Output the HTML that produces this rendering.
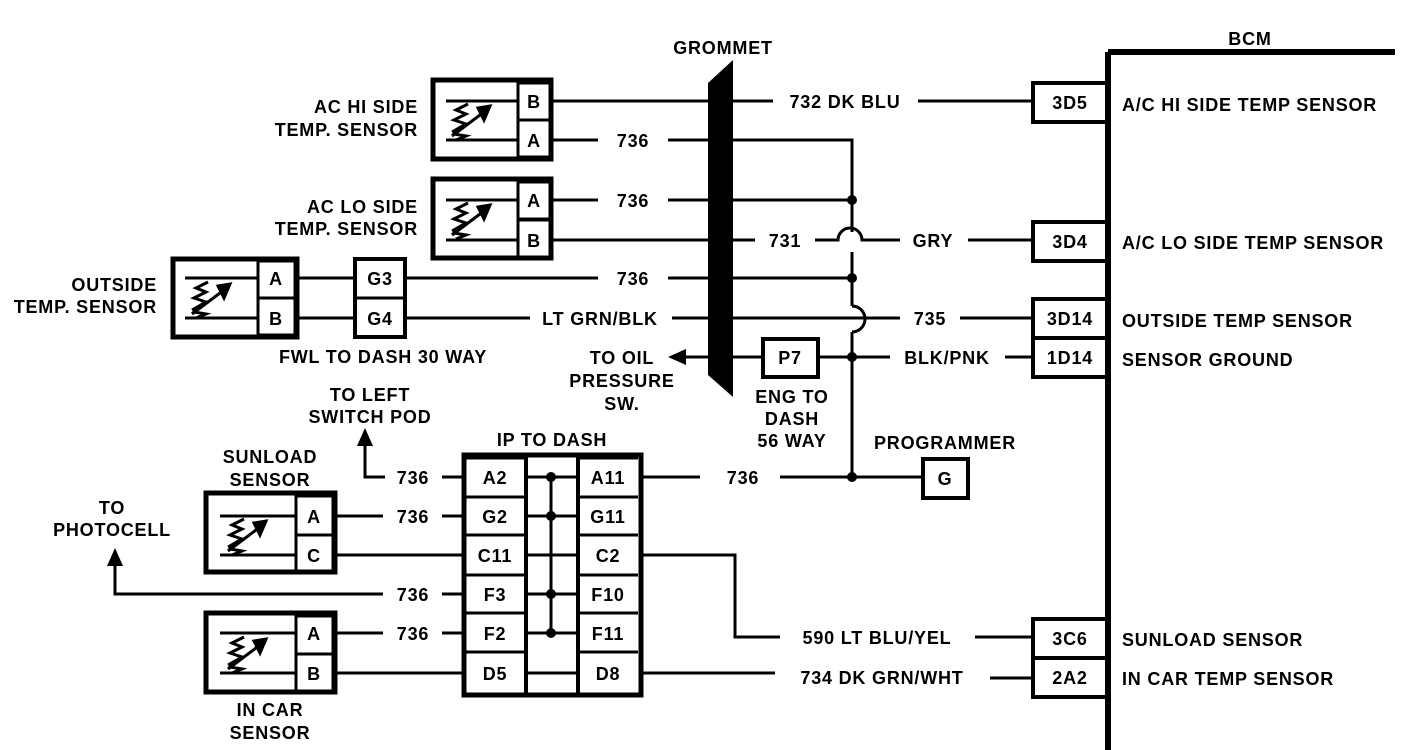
<!DOCTYPE html>
<html><head><meta charset="utf-8"><style>
html,body{margin:0;padding:0;background:#fff;}
svg{display:block;}
text{font-family:"Liberation Sans",sans-serif;font-weight:bold;font-size:18px;letter-spacing:0.8px;fill:#000;}
</style></head><body>
<svg width="1408" height="750" viewBox="0 0 1408 750" xmlns="http://www.w3.org/2000/svg">
<defs>
<g id="sym" fill="none" stroke="#000" stroke-width="3">
  <path d="M22 8 L10 14 L20 18 L8 24 L20 28 L6 36 M16 30 L8 38 L20 40 L10 44" />
  <path d="M6 40 L38 16" />
  <path d="M32 12 L44 10 L38 24 Z" fill="#000"/>
</g>
</defs>
<g fill="none" stroke="#000" stroke-width="3">
<path d="M1108 52 V750 M1108 52 H1395" stroke-width="6"/>
<rect x="433" y="80" width="118" height="79" stroke-width="5"/>
<rect x="518" y="83" width="32" height="37"/><rect x="518" y="120" width="32" height="37"/>
<path d="M446 101 H518 M446 140 H518"/>
<rect x="433" y="179" width="118" height="79" stroke-width="5"/>
<rect x="518" y="182" width="32" height="37"/><rect x="518" y="220" width="32" height="37"/>
<path d="M446 200 H518 M446 240 H518"/>
<rect x="173" y="259" width="124" height="78" stroke-width="5"/>
<rect x="258" y="261" width="37" height="37"/><rect x="258" y="298" width="37" height="37"/>
<path d="M185 278 H258 M185 318 H258"/>
<rect x="355" y="259" width="50" height="78" stroke-width="4"/>
<path d="M355 298 H405"/>
<path d="M551 101 H708 M733 101 H773 M918 101 H1033"/>
<path d="M551 140 H598 M668 140 H708 M733 140 H852 V232 M852 252 V306 M852 332 V477"/>
<path d="M551 200 H598 M668 200 H708 M733 200 H852"/>
<path d="M551 240 H708 M733 240 H755 M815 240 H838 A12 12 0 0 1 862 240 H900 M968 240 H1033"/>
<path d="M852 306 A13 13 0 0 1 852 332"/>
<path d="M297 278 H355 M405 278 H598 M668 278 H708 M733 278 H852"/>
<path d="M297 318 H355 M405 318 H530 M672 318 H708 M733 318 H900 M960 318 H1033"/>
<path d="M685 357 H708 M733 357 H762 M818 357 H890 M1005 357 H1033"/>
<path d="M780 477 H922 M640 477 H700"/>
<rect x="1033" y="83" width="75" height="39" stroke-width="4"/>
<rect x="1033" y="222" width="75" height="39" stroke-width="4"/>
<rect x="1033" y="299" width="75" height="39" stroke-width="4"/>
<rect x="1033" y="338" width="75" height="39" stroke-width="4"/>
<rect x="1033" y="619" width="75" height="39" stroke-width="4"/>
<rect x="1033" y="658" width="75" height="39" stroke-width="4"/>
<rect x="763" y="339" width="55" height="38" stroke-width="4"/>
<rect x="923" y="459" width="45" height="39" stroke-width="4"/>
<rect x="464" y="455" width="177" height="240" stroke-width="5"/>
<path d="M466 458 H526 M466 497 H526 M466 535 H526 M466 575 H526 M466 613 H526 M466 652 H526"/>
<path d="M578 458 H638 M578 497 H638 M578 535 H638 M578 575 H638 M578 613 H638 M578 652 H638"/>
<path d="M526 455 V695 M578 455 V695" stroke-width="4"/>
<path d="M526 477 H578 M526 516 H578 M526 555 H578 M526 594 H578 M526 633 H578 M526 673 H578 M551 477 V633"/>
<rect x="206" y="493" width="129" height="79" stroke-width="5"/>
<rect x="296" y="496" width="37" height="39"/><rect x="296" y="535" width="37" height="37"/>
<path d="M220 516 H296 M220 555 H296"/>
<rect x="206" y="613" width="129" height="79" stroke-width="5"/>
<rect x="296" y="616" width="37" height="38"/><rect x="296" y="654" width="37" height="37"/>
<path d="M220 633 H296 M220 673 H296"/>
<path d="M335 516 H383 M442 516 H464 M335 555 H464 M335 633 H383 M442 633 H464 M335 673 H464"/>
<path d="M442 477 H464 M385 477 H365 V440"/>
<path d="M383 594 H115 V560 M442 594 H464"/>
<path d="M641 555 H735 V637 H780 M975 637 H1033"/>
<path d="M641 673 H775 M990 678 H1033"/>
</g>
<polygon points="708,83 733,60 733,397 708,375" fill="#000"/>
<g fill="#000">
<circle cx="852" cy="200" r="5"/><circle cx="852" cy="278" r="5"/><circle cx="852" cy="357" r="5"/><circle cx="852" cy="477" r="5"/>
<circle cx="551" cy="477" r="5"/><circle cx="551" cy="516" r="5"/><circle cx="551" cy="594" r="5"/><circle cx="551" cy="633" r="5"/>
<polygon points="668,357 686,349 686,365"/>
<polygon points="365,428 357,446 373,446"/>
<polygon points="115,548 107,566 123,566"/>
</g>
<use href="#sym" x="446" y="96"/>
<use href="#sym" x="446" y="195"/>
<use href="#sym" x="186" y="274"/>
<use href="#sym" x="222" y="511"/>
<use href="#sym" x="222" y="629"/>
<text x="1250" y="45" text-anchor="middle" font-size="22">BCM</text>
<text x="723" y="54" text-anchor="middle">GROMMET</text>
<g text-anchor="end">
<text x="418" y="113">AC HI  SIDE</text><text x="418" y="136">TEMP. SENSOR</text>
<text x="418" y="213">AC LO SIDE</text><text x="418" y="235">TEMP. SENSOR</text>
<text x="157" y="291">OUTSIDE</text><text x="157" y="313">TEMP. SENSOR</text>
</g>
<g text-anchor="middle">
<text x="534" y="108">B</text><text x="534" y="147">A</text>
<text x="534" y="207">A</text><text x="534" y="247">B</text>
<text x="276" y="285">A</text><text x="276" y="325">B</text>
<text x="380" y="285">G3</text><text x="380" y="325">G4</text>
<text x="633" y="147">736</text><text x="633" y="207">736</text><text x="633" y="285">736</text>
<text x="600" y="325">LT GRN/BLK</text>
<text x="845" y="108">732  DK BLU</text>
<text x="785" y="247">731</text><text x="933" y="247">GRY</text>
<text x="930" y="325">735</text><text x="947" y="364">BLK/PNK</text>
<text x="1070" y="109">3D5</text><text x="1070" y="248">3D4</text><text x="1070" y="325">3D14</text><text x="1070" y="364">1D14</text>
<text x="1070" y="645">3C6</text><text x="1070" y="684">2A2</text>
<text x="790" y="364">P7</text><text x="945" y="485">G</text>
<text x="383" y="363">FWL TO DASH 30 WAY</text>
<text x="622" y="364">TO OIL</text><text x="622" y="387">PRESSURE</text><text x="622" y="410">SW.</text>
<text x="792" y="403">ENG TO</text><text x="792" y="425">DASH</text><text x="792" y="447">56 WAY</text>
<text x="945" y="449">PROGRAMMER</text>
<text x="743" y="484">736</text>
<text x="370" y="401">TO LEFT</text><text x="370" y="423">SWITCH POD</text>
<text x="552" y="446">IP TO DASH</text>
<text x="270" y="463">SUNLOAD</text><text x="270" y="486">SENSOR</text>
<text x="112" y="514">TO</text><text x="112" y="536">PHOTOCELL</text>
<text x="270" y="716">IN CAR</text><text x="270" y="739">SENSOR</text>
<text x="314" y="523">A</text><text x="314" y="562">C</text>
<text x="314" y="640">A</text><text x="314" y="680">B</text>
<text x="413" y="484">736</text><text x="413" y="523">736</text><text x="413" y="601">736</text><text x="413" y="640">736</text>
<text x="495" y="484">A2</text><text x="495" y="523">G2</text><text x="495" y="562">C11</text><text x="495" y="601">F3</text><text x="495" y="640">F2</text><text x="495" y="680">D5</text>
<text x="608" y="484">A11</text><text x="608" y="523">G11</text><text x="608" y="562">C2</text><text x="608" y="601">F10</text><text x="608" y="640">F11</text><text x="608" y="680">D8</text>
<text x="877" y="644">590  LT BLU/YEL</text>
<text x="882" y="684">734  DK GRN/WHT</text>
</g>
<g>
<text x="1122" y="111">A/C HI SIDE TEMP SENSOR</text>
<text x="1122" y="249">A/C LO SIDE TEMP SENSOR</text>
<text x="1122" y="327">OUTSIDE TEMP SENSOR</text>
<text x="1122" y="366">SENSOR GROUND</text>
<text x="1122" y="646">SUNLOAD SENSOR</text>
<text x="1122" y="685">IN CAR TEMP SENSOR</text>
</g>
</svg>
</body></html>
